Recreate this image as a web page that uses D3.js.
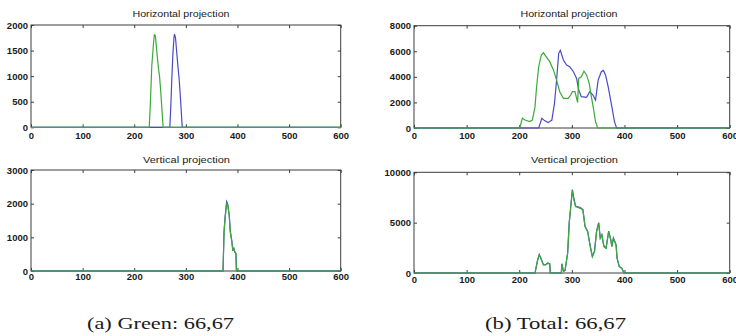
<!DOCTYPE html>
<html>
<head>
<meta charset="utf-8">
<script src="https://cdn.jsdelivr.net/npm/d3@7"></script>
<style>
  body { margin: 0; background: #fff; }
  svg { display: block; }
  .tick text { font-family: "Liberation Sans", Arial, sans-serif; font-weight: bold; font-size: 9.5px; fill: #1a1a1a; }
  .tick line { stroke: #3c3c3c; }
</style>
</head>
<body>
<svg id="chart" width="736" height="336"></svg>
<script>
// tick labels
var xTicks = [0, 100, 200, 300, 400, 500, 600];
var yTicksGreenH = [0, 500, 1000, 1500, 2000];
var yTicksGreenV = [0, 1000, 2000, 3000];
var yTicksTotalH = [0, 2000, 4000, 6000, 8000];
var yTicksTotalV = [0, 5000, 10000];

// (a) green: horizontal projection, [column, count]
var greenH_a = [[0,0],[229,0],[231,400],[234,1200],[237,1600],[239,1810],[241,1790],[244,1450],[247,1150],[249,1000],[251,750],[253,450],[256,0],[600,0]];
var blueH_a = [[0,0],[269,0],[271,450],[273,1000],[275,1450],[277,1750],[278,1820],[280,1750],[282,1500],[285,1150],[287,950],[290,500],[293,0],[600,0]];

// (a) green: vertical projection
var greenV_a = [[0,0],[372,0],[374,1150],[376,1560],[379,2000],[381,1960],[384,1650],[386,1170],[389,870],[391,620],[393,650],[395,560],[397,520],[398,0],[600,0]];
var blueV_a = [[0,0],[372,0],[374,1170],[376,1600],[379,2060],[381,1990],[384,1680],[386,1190],[389,900],[391,600],[393,680],[395,560],[397,520],[398,0],[600,0]];

// (b) total: horizontal projection
var greenH_b = [[0,0],[201,0],[206,760],[211,620],[220,500],[225,620],[230,1670],[233,3230],[237,4800],[242,5710],[246,5880],[252,5530],[258,5190],[265,4540],[271,3750],[277,2840],[284,2320],[293,2320],[298,2600],[301,2840],[306,2840],[309,2320],[311,1990],[313,3880],[318,4010],[323,4450],[328,4150],[333,3490],[336,2710],[341,1540],[345,500],[349,0],[600,0]];
var blueH_b = [[0,0],[237,0],[243,760],[248,580],[255,420],[262,620],[267,1930],[271,3750],[275,5840],[278,6080],[284,5320],[290,4930],[296,4800],[303,4400],[309,3880],[313,2970],[318,2450],[328,2400],[334,2840],[340,2580],[345,2190],[350,3750],[356,4400],[360,4500],[364,4150],[369,3230],[376,1670],[381,500],[385,0],[600,0]];

// (b) total: vertical projection
var greenV_b = [[0,0],[230,0],[235,1290],[238,1790],[241,1460],[246,800],[250,800],[254,960],[258,900],[259,0],[280,0],[281,900],[284,170],[287,230],[292,1950],[295,4930],[298,6590],[301,8200],[304,7250],[307,6590],[316,6420],[321,6260],[325,4600],[330,4100],[335,2610],[339,1620],[343,2120],[347,4100],[351,4930],[354,3440],[357,3770],[361,2610],[365,2450],[370,4100],[374,3280],[376,2610],[379,3440],[384,2780],[386,1460],[390,630],[395,460],[399,0],[600,0]];
var blueV_b = [[0,0],[230,0],[235,1300],[238,1840],[241,1480],[246,820],[250,830],[254,1000],[258,920],[259,0],[280,0],[281,920],[284,170],[287,230],[292,1990],[295,5000],[298,6650],[301,8280],[304,7350],[307,6650],[316,6500],[321,6300],[325,4650],[330,4150],[335,2650],[339,1640],[343,2160],[347,4150],[351,5000],[354,3480],[357,3800],[361,2650],[365,2480],[370,4150],[374,3300],[376,2640],[379,3480],[384,2820],[386,1480],[390,650],[395,470],[399,0],[600,0]];

var panels = [
  {box:[31,25,340.7,127.3], title:"Horizontal projection", tx:181, ty:17.3, tlen:97, yMax:2000, yTicks:yTicksGreenH, blue:blueH_a, green:greenH_a, pad:5.4},
  {box:[414,25.7,729.7,128], title:"Horizontal projection", tx:569, ty:17.3, tlen:97, yMax:8000, yTicks:yTicksTotalH, blue:blueH_b, green:greenH_b, pad:4.7},
  {box:[31,170,340.7,271], title:"Vertical projection", tx:186.5, ty:162.7, tlen:87, yMax:3000, yTicks:yTicksGreenV, blue:blueV_a, green:greenV_a, pad:2.6},
  {box:[414,172.3,729.7,273], title:"Vertical projection", tx:574.5, ty:163.3, tlen:87, yMax:10000, yTicks:yTicksTotalV, blue:blueV_b, green:greenV_b, pad:3.2}
];

var captions = [
  {text:"(a) Green: 66,67", x:160.5, len:147},
  {text:"(b) Total: 66,67", x:555.5, len:141}
];

var svg = d3.select('#chart');

panels.forEach(function (p) {
    var x = d3.scaleLinear().domain([0, 600]).range([p.box[0], p.box[2]]);
    var y = d3.scaleLinear().domain([0, p.yMax]).range([p.box[3], p.box[1]]);
    var g = svg.append('g');

    g.append('text')
        .attr('x', p.tx).attr('y', p.ty)
        .attr('text-anchor', 'middle')
        .attr('textLength', p.tlen).attr('lengthAdjust', 'spacingAndGlyphs')
        .style('font-family', '"Liberation Sans", Arial, sans-serif')
        .style('font-size', '9.5px').style('fill', '#1a1a1a')
        .text(p.title);

    // inward ticks on all four sides, like a matlab box
    g.append('g').attr('transform', 'translate(0,' + p.box[3] + ')')
        .call(d3.axisBottom(x).tickValues(xTicks).tickSizeInner(-3).tickSizeOuter(0).tickPadding(p.pad))
        .call(function (a) { a.select('.domain').remove(); });
    g.append('g').attr('transform', 'translate(0,' + p.box[1] + ')')
        .call(d3.axisTop(x).tickValues(xTicks).tickSizeInner(-3).tickSizeOuter(0).tickFormat(''))
        .call(function (a) { a.select('.domain').remove(); });
    g.append('g').attr('transform', 'translate(' + p.box[0] + ',0)')
        .call(d3.axisLeft(y).tickValues(p.yTicks).tickSizeInner(-3).tickSizeOuter(0).tickPadding(3).tickFormat(d3.format('d')))
        .call(function (a) { a.select('.domain').remove(); });
    g.append('g').attr('transform', 'translate(' + p.box[2] + ',0)')
        .call(d3.axisRight(y).tickValues(p.yTicks).tickSizeInner(-3).tickSizeOuter(0).tickFormat(''))
        .call(function (a) { a.select('.domain').remove(); });

    g.append('rect')
        .attr('x', p.box[0]).attr('y', p.box[1])
        .attr('width', p.box[2] - p.box[0]).attr('height', p.box[3] - p.box[1])
        .attr('fill', 'none').attr('stroke', '#3c3c3c').attr('stroke-width', 1);

    var line = d3.line()
        .x(function (d) { return x(d[0]); })
        .y(function (d) { return y(d[1]); });

    g.append('path').datum(p.blue)
        .attr('d', line).attr('fill', 'none')
        .attr('stroke', '#4a4ac8').attr('stroke-width', 1.2);
    g.append('path').datum(p.green)
        .attr('d', line).attr('fill', 'none')
        .attr('stroke', '#3aaa3a').attr('stroke-width', 1.2);
});

captions.forEach(function (c) {
    svg.append('text')
        .attr('x', c.x).attr('y', 328.6)
        .attr('text-anchor', 'middle')
        .attr('textLength', c.len).attr('lengthAdjust', 'spacingAndGlyphs')
        .style('font-family', '"Liberation Serif", "Times New Roman", serif')
        .style('font-size', '17px').style('fill', '#1a1a1a')
        .text(c.text);
});
</script>
</body>
</html>
